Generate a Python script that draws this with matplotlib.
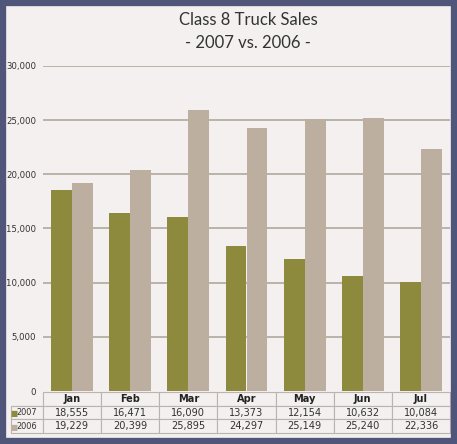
import matplotlib.pyplot as plt
import numpy as np
from matplotlib.patches import Rectangle

months = ['Jan', 'Feb', 'Mar', 'Apr', 'May', 'Jun', 'Jul']
sales_2007 = [18555, 16471, 16090, 13373, 12154, 10632, 10084]
sales_2006 = [19229, 20399, 25895, 24297, 25149, 25240, 22336]
yticks = [0, 5000, 10000, 15000, 20000, 25000, 30000]

c2007 = '#8d8a3d'
c2006 = '#bdaf9f'
bg = '#f3f0ef'
narrow = ['Liberation Sans Narrow', 'DejaVu Sans']

fig = plt.figure(figsize=(4.57, 4.44), dpi=100)
fig.patch.set_facecolor(bg)
# frame around the chart
fig.add_artist(Rectangle((0.004, 0.004), 0.992, 0.992, transform=fig.transFigure,
                         facecolor='none', edgecolor='#50567a', lw=6, zorder=5))

ax = fig.add_axes([43 / 457, 53 / 444, 407 / 457, 325 / 444])
ax.set_facecolor('none')

x = np.arange(len(months))
w = 0.36
ax.bar(x - w / 2, sales_2007, w, color=c2007, zorder=3)
ax.bar(x + w / 2, sales_2006, w, color=c2006, zorder=3)

ax.set_xlim(-0.5, len(months) - 0.5)
ax.set_ylim(0, 30000)
ax.set_yticks(yticks)
ax.set_yticklabels([f'{v:,}' for v in yticks], family=narrow, fontsize=6.8,
                   color='#333333', stretch='condensed')
ax.set_xticks([])
ax.tick_params(axis='y', length=0, pad=5)
for v in yticks[1:]:
    ax.axhline(v, color='#aaa395', lw=1.1, zorder=1)
for s in ax.spines.values():
    s.set_visible(False)

fig.text(0.543, 0.955, 'Class 8 Truck Sales', ha='center', va='center',
         fontsize=12, family=['Lato', 'DejaVu Sans'], color='#333333')
fig.text(0.543, 0.903, '- 2007 vs. 2006 -', ha='center', va='center',
         fontsize=12, family=['Lato', 'DejaVu Sans'], color='#333333')

# data table under the bars (first column holds the series names)
cells = [['2007'] + [f'{v:,}' for v in sales_2007],
         ['2006'] + [f'{v:,}' for v in sales_2006]]
lab_w = 32 / 407
tbl = ax.table(cellText=cells, colLabels=[''] + months,
               colWidths=[lab_w] + [1 / 7] * 7, cellLoc='center',
               bbox=[-lab_w, -42 / 325, 1 + lab_w, 41 / 325])
tbl.auto_set_font_size(False)
for (r, c), cell in tbl.get_celld().items():
    cell.set_edgecolor('#b9b4ae')
    cell.set_facecolor(bg)
    cell.set_linewidth(0.8)
    t = cell.get_text()
    t.set_fontsize(7.8)
    t.set_family(narrow)
    t.set_stretch('condensed')
    t.set_color('#333333')
    if r == 0:
        t.set_fontweight('bold')
        t.set_color('#222222')
        if c == 0:
            cell.visible_edges = 'B'
    if c == 0:
        cell._loc = 'right'
        cell.PAD = 0.03
        t.set_fontsize(6.6)

# colour keys in the row labels
fig.text(10 / 457, (444 - 413) / 444, '■', color=c2007, fontsize=5.5, va='center')
fig.text(10 / 457, (444 - 427) / 444, '■', color=c2006, fontsize=5.5, va='center')

fig.savefig('out.png', dpi=100, facecolor=fig.get_facecolor())
